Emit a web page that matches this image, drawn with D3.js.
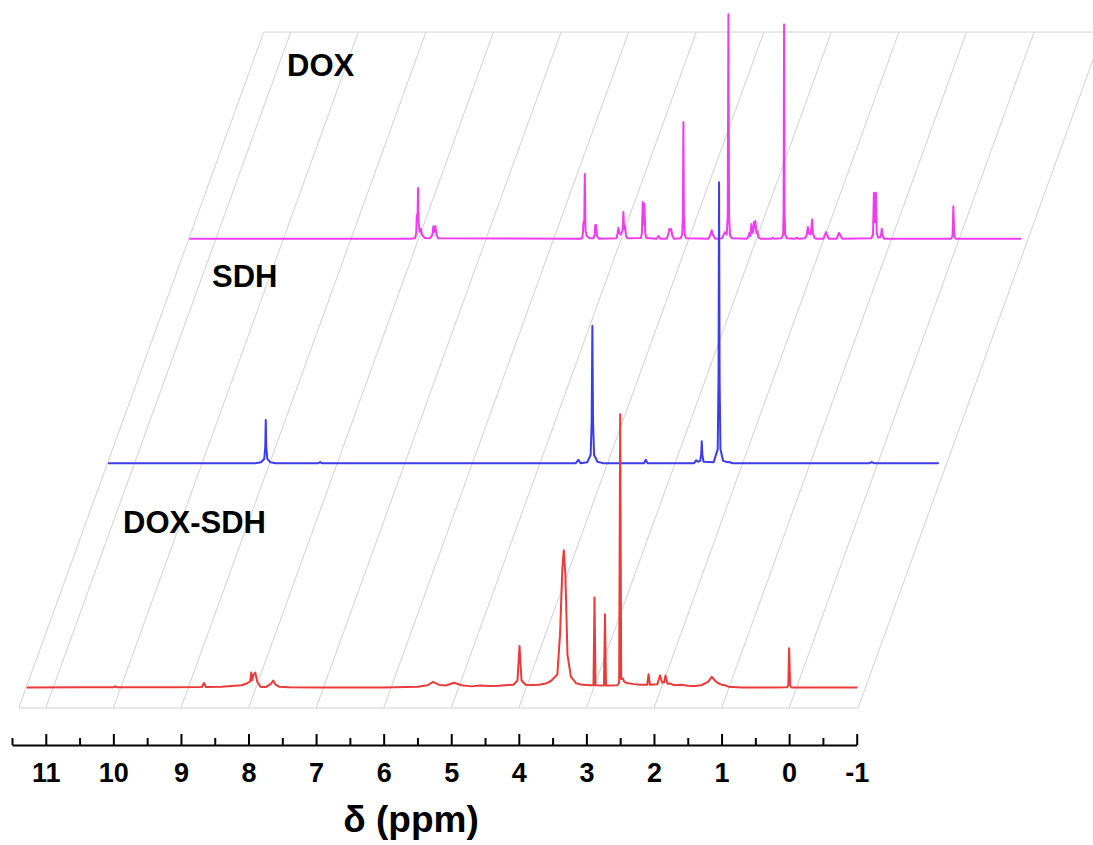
<!DOCTYPE html>
<html>
<head>
<meta charset="utf-8">
<script src="https://cdn.jsdelivr.net/npm/d3@7/dist/d3.min.js"></script>
<style>
  html, body { margin: 0; padding: 0; background: #fff; }
  svg { display: block; font-family: Arial, "Liberation Sans", sans-serif; }
</style>
</head>
<body>
<svg id="chart" width="1093" height="845"></svg>
<script>
// ---- data -------------------------------------------------------------
const majorTicks = [11, 10, 9, 8, 7, 6, 5, 4, 3, 2, 1, 0, -1];
const minorTicks = [11.5, 10.5, 9.5, 8.5, 7.5, 6.5, 5.5, 4.5, 3.5, 2.5, 1.5, 0.5, -0.5];
const gridLines = [11, 10, 9, 8, 7, 6, 5, 4, 3, 2, 1, 0];
const axisTitle = "δ (ppm)";

const seriesNames = ["DOX", "SDH", "DOX-SDH"];
const seriesDepth = [2, 1, 0];
const seriesColors = ["#f03cf0", "#3c3ced", "#ec3a3a"];

// [chemical shift (ppm), relative intensity]
const doxSpectrum = [
  [11.27, 0], [8.0, 0], [7.94, 0.3], [7.925, 2.0], [7.916, 8.5], [7.905, 8.5], [7.897, 18.1], [7.89, 6],
  [7.875, 2.5], [7.857, 3.6], [7.84, 1.5], [7.80, 0.3], [7.72, 0.2], [7.685, 1.5], [7.671, 4.5], [7.656, 2.5],
  [7.641, 4.5], [7.625, 1.5], [7.60, 0.2], [5.50, 0], [5.47, 0.2], [5.458, 2.0], [5.45, 6.0], [5.438, 6.0],
  [5.43, 23.1], [5.42, 3.0], [5.40, 1.0], [5.36, 0.2], [5.30, 0.2], [5.285, 1.5], [5.275, 4.9], [5.262, 4.9],
  [5.25, 1.0], [5.22, 0], [4.96, 0.2], [4.945, 2.0], [4.933, 3.9], [4.92, 2.0], [4.90, 1.5], [4.87, 3.0],
  [4.859, 9.5], [4.848, 3.5], [4.834, 4.5], [4.82, 1.0], [4.80, 0.2], [4.60, 0.3], [4.585, 2.0], [4.572, 13.1],
  [4.56, 5], [4.548, 12.5], [4.535, 2.0], [4.52, 0.3], [4.37, 0], [4.34, 1.0], [4.31, 0], [4.22, 0],
  [4.195, 1.5], [4.18, 3.5], [4.165, 3.0], [4.152, 3.5], [4.135, 1.2], [4.11, 0], [4.01, 0.2], [3.99, 1.5],
  [3.978, 8], [3.971, 41.5], [3.964, 8], [3.95, 1.5], [3.93, 0.2], [3.60, 0], [3.575, 1.2], [3.551, 3.0],
  [3.53, 1.2], [3.50, 0], [3.40, 0.2], [3.354, 2.4], [3.33, 1.5], [3.315, 8], [3.305, 79.9], [3.295, 8],
  [3.28, 1.0], [3.25, 0.2], [3.03, 0], [3.01, 0.8], [2.995, 2.1], [2.98, 1.0], [2.965, 5.3], [2.955, 2.0],
  [2.94, 2.5], [2.925, 6.0], [2.915, 4.0], [2.906, 6.3], [2.89, 2.0], [2.876, 2.7], [2.86, 0.5], [2.83, 0],
  [2.67, 0], [2.648, 0.4], [2.63, 0], [2.52, 0.2], [2.495, 1.5], [2.488, 10], [2.481, 76.3], [2.474, 10],
  [2.465, 1.5], [2.44, 0.2], [2.32, 0], [2.293, 0.4], [2.27, 0], [2.17, 0.2], [2.145, 1.5], [2.13, 4.2],
  [2.115, 2.0], [2.09, 1.5], [2.078, 3.5], [2.067, 6.9], [2.055, 2.0], [2.03, 0.3], [2.00, 0], [1.90, 0],
  [1.875, 1.5], [1.86, 2.4], [1.845, 1.5], [1.82, 0], [1.70, 0], [1.68, 1.5], [1.667, 2.1], [1.65, 1.2],
  [1.62, 0], [1.19, 0.2], [1.165, 1.5], [1.152, 16.4], [1.136, 6], [1.122, 16.4], [1.11, 2.0], [1.09, 0.5],
  [1.06, 0.5], [1.045, 1.5], [1.036, 3.6], [1.025, 1.2], [1.00, 0], [0.01, 0], [-0.012, 1.0], [-0.024, 11.6],
  [-0.036, 1.0], [-0.06, 0], [-1.02, 0]
];

const sdhSpectrum = [
  [11.27, 0], [9.10, 0], [9.02, 0.3], [8.97, 1.5], [8.955, 6], [8.948, 15.4], [8.941, 6], [8.925, 1.5],
  [8.88, 0.3], [8.80, 0], [8.17, 0], [8.144, 0.4], [8.12, 0], [4.36, 0], [4.322, 1.2], [4.29, 0],
  [4.19, 0.3], [4.14, 3], [4.125, 15], [4.115, 48.8], [4.105, 15], [4.09, 3], [4.04, 0.5], [3.96, 0],
  [3.35, 0], [3.325, 1.2], [3.30, 0], [2.61, 0], [2.58, 1.0], [2.55, 0.5], [2.52, 0.8], [2.505, 3],
  [2.496, 7.8], [2.487, 3], [2.47, 0.5], [2.32, 0.3], [2.26, 5], [2.248, 30], [2.240, 100], [2.232, 30],
  [2.22, 5], [2.18, 0.8], [2.11, 0.3], [2.077, 0.4], [2.05, 0], [0.01, 0], [-0.02, 0.4], [-0.05, 0],
  [-1.0, 0]
];

const doxSdhSpectrum = [
  [11.27, 0], [10.5, 0.1], [10.0, 0.1], [9.97, 0.4], [9.94, 0.1], [9.2, 0.1], [8.69, 0.2], [8.66, 1.6],
  [8.63, 0.2], [8.4, 0.3], [8.1, 0.8], [8.02, 1.5], [7.975, 2.2], [7.96, 5.3], [7.945, 2.6], [7.925, 4.6],
  [7.90, 5.3], [7.87, 2.0], [7.82, 0.2], [7.74, 0.2], [7.665, 1.4], [7.635, 2.5], [7.60, 1.0], [7.55, 0.3],
  [7.4, 0.1], [6.9, 0], [6.0, 0], [5.5, 0.3], [5.35, 0.8], [5.27, 2.0], [5.18, 0.9], [5.08, 0.7],
  [4.96, 1.7], [4.85, 0.8], [4.7, 0.4], [4.57, 0.7], [4.45, 0.5], [4.3, 0.6], [4.15, 0.9], [4.08, 1.0],
  [4.02, 2.5], [3.99, 14.8], [3.96, 2.5], [3.9, 1.0], [3.8, 0.9], [3.7, 1.0], [3.6, 1.4], [3.52, 2.4],
  [3.43, 4.6], [3.39, 18.9], [3.356, 42.3], [3.335, 48.8], [3.311, 40.2], [3.28, 11.7], [3.23, 3.9],
  [3.15, 1.5], [3.09, 1.1], [2.95, 0.8], [2.895, 0.8], [2.88, 32.0], [2.865, 0.8], [2.74, 0.7],
  [2.725, 26.1], [2.71, 0.7], [2.54, 0.8], [2.515, 1.8], [2.50, 97.2], [2.485, 3.0], [2.46, 3.2],
  [2.44, 2.0], [2.40, 1.6], [2.30, 1.2], [2.2, 1.0], [2.10, 1.0], [2.08, 4.7], [2.06, 1.0], [1.95, 1.2],
  [1.91, 4.3], [1.88, 1.8], [1.85, 1.8], [1.83, 4.3], [1.80, 1.3], [1.76, 1.4], [1.70, 0.8], [1.60, 1.0],
  [1.50, 0.6], [1.40, 0.5], [1.30, 0.8], [1.20, 2.0], [1.145, 3.8], [1.10, 2.5], [1.05, 1.5], [1.00, 1.0],
  [0.95, 0.8], [0.90, 0.3], [0.7, 0], [0.3, 0], [0.03, 0.1], [0.012, 1.0], [0.0, 14.0], [-0.015, 0.5],
  [-0.04, 0], [-1.0, 0]
];

const spectra = [doxSpectrum, sdhSpectrum, doxSdhSpectrum];

// ---- scales & projection ------------------------------------------------
const svg = d3.select("#chart");

const x = d3.scaleLinear().domain([11.5, -1]).range([12, 856.7]);
const depth = d3.scaleLinear().domain([0, 1]).range([0, 224.35]);
const intensity = d3.scaleLinear().domain([0, 100]).range([0, 281]);

const floorFront = 708;          // y of the front edge of the floor
const floorBackDepth = 3.013;    // depth of the back edge of the floor
const floorRange = [11.4, -1.02];
const slant = 245 / 676;         // horizontal shift per pixel of depth
const baselineLift = 20.5;

function floorPoint(ppm, d) {
  const z = depth(d);
  return [x(ppm) + z * slant, floorFront - z];
}
function tracePoint(ppm, d, v) {
  const z = depth(d);
  return [x(ppm) + z * slant, floorFront - z - baselineLift - intensity(v)];
}

// ---- floor grid ---------------------------------------------------------
const floor = svg.append("g").attr("fill", "none").attr("stroke", "#d2d2d2").attr("stroke-width", 1);

floor.selectAll("line.grid")
  .data(gridLines)
  .join("line")
  .attr("class", "grid")
  .attr("x1", p => floorPoint(p, 0)[0])
  .attr("y1", p => floorPoint(p, 0)[1])
  .attr("x2", p => floorPoint(p, floorBackDepth)[0])
  .attr("y2", p => floorPoint(p, floorBackDepth)[1]);

const outline = [
  floorPoint(floorRange[0], 0),
  floorPoint(floorRange[1], 0),
  floorPoint(floorRange[1], floorBackDepth),
  floorPoint(floorRange[0], floorBackDepth)
];
floor.append("path")
  .attr("d", d3.line()(outline) + "Z");

// ---- spectra (back to front) -------------------------------------------
const traces = svg.append("g").attr("fill", "none");
seriesNames.forEach((name, i) => {
  const d = seriesDepth[i];
  const line = d3.line()
    .x(p => tracePoint(p[0], d, p[1])[0])
    .y(p => tracePoint(p[0], d, p[1])[1]);
  traces.append("path")
    .datum(spectra[i])
    .attr("d", line)
    .attr("stroke", seriesColors[i])
    .attr("stroke-width", 2)
    .attr("stroke-linejoin", "round")
    .attr("stroke-linecap", "round");
});

// ---- series labels -------------------------------------------------------
const labelPos = [[287, 76], [212, 287], [123, 533]];
svg.append("g")
  .selectAll("text")
  .data(seriesNames)
  .join("text")
  .attr("x", (t, i) => labelPos[i][0])
  .attr("y", (t, i) => labelPos[i][1])
  .attr("font-size", 31)
  .attr("font-weight", "bold")
  .attr("fill", "#000")
  .text(t => t);

// ---- x axis --------------------------------------------------------------
const axisY = 745;
const gAxis = svg.append("g").attr("transform", `translate(0,${axisY})`);

gAxis.call(
  d3.axisBottom(x)
    .tickValues(majorTicks)
    .tickFormat(d3.format("d"))
    .tickSizeInner(-11)
    .tickSizeOuter(0)
    .tickPadding(18)
);
gAxis.select(".domain").attr("stroke", "#000").attr("stroke-width", 2);
gAxis.selectAll(".tick line").attr("stroke", "#000").attr("stroke-width", 2);
gAxis.selectAll(".tick text")
  .attr("font-size", 27)
  .attr("font-weight", "bold")
  .attr("font-family", "Arial, 'Liberation Sans', sans-serif")
  .attr("fill", "#000")
  .text(v => v < 0 ? "-" + Math.abs(v) : String(v));

const gMinor = svg.append("g").attr("transform", `translate(0,${axisY})`);
gMinor.call(
  d3.axisBottom(x)
    .tickValues(minorTicks)
    .tickFormat("")
    .tickSizeInner(-7)
    .tickSizeOuter(0)
);
gMinor.select(".domain").remove();
gMinor.selectAll(".tick line").attr("stroke", "#000").attr("stroke-width", 2);

svg.append("text")
  .attr("x", 411)
  .attr("y", 832)
  .attr("text-anchor", "middle")
  .attr("font-size", 37)
  .attr("font-weight", "bold")
  .attr("fill", "#000")
  .text(axisTitle);
</script>
</body>
</html>
